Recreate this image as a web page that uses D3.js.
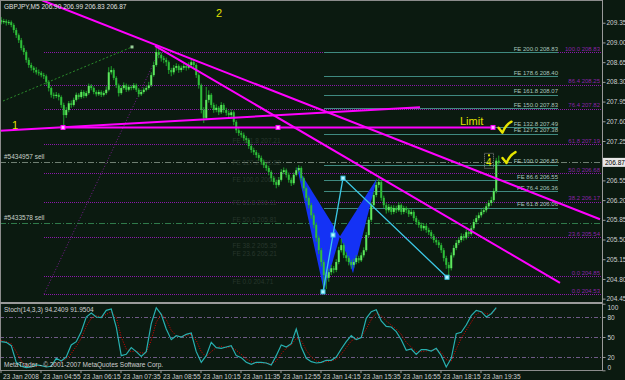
<!DOCTYPE html>
<html>
<head>
<meta charset="utf-8">
<script src="https://cdnjs.cloudflare.com/ajax/libs/d3/7.8.5/d3.min.js"></script>
<style>
  html, body { margin: 0; padding: 0; background: #0b1a10; }
  svg { display: block; font-family: 'Liberation Sans', Arial, sans-serif; }
</style>
</head>
<body>
<svg id="chart" width="625" height="380"></svg>
<script>
// GBPJPY M5, bar 0 opens 23 Jan 2008 03:35
var startTime = new Date(2008, 0, 23, 3, 35);
var firstOpen = 209.40;

var closes = [
  209.36,209.38,209.35,209.36,209.31,209.22,209.13,209.04,208.90,208.83,
  208.69,208.60,208.55,208.51,208.47,208.46,208.42,208.40,208.30,208.19,
  208.07,208.05,208.07,208.03,207.89,207.71,207.80,207.92,207.89,207.98,
  208.07,208.03,208.12,208.05,208.10,208.23,208.19,208.12,208.08,208.12,
  208.07,208.10,208.16,208.47,208.51,208.37,208.24,208.10,208.19,208.24,
  208.16,208.21,208.19,208.24,208.16,208.08,208.12,208.16,208.19,208.24,
  208.42,208.60,208.83,208.78,208.72,208.69,208.65,208.51,208.47,208.55,
  208.58,208.51,208.55,208.58,208.55,208.60,208.65,208.60,208.42,208.24,
  207.80,207.66,207.98,208.07,207.89,207.80,207.84,207.76,207.89,207.80,
  207.75,207.71,207.76,207.59,207.44,207.39,207.36,207.30,207.27,207.16,
  207.09,207.05,207.00,206.95,206.88,206.82,206.77,206.70,206.59,206.52,
  206.47,206.56,206.70,206.73,206.65,206.56,206.50,206.65,206.73,206.77,
  206.59,206.41,206.24,206.11,205.93,205.76,205.53,205.31,205.10,204.87,
  204.82,204.92,204.99,204.96,205.10,205.31,205.40,205.22,205.17,205.10,
  205.05,205.10,205.17,205.13,205.22,205.31,205.58,205.85,206.11,206.29,
  206.47,206.52,206.24,206.11,206.02,206.08,205.99,206.06,206.02,206.11,
  205.99,206.06,206.02,205.95,205.99,205.88,205.81,205.76,205.70,205.74,
  205.67,205.63,205.56,205.49,205.45,205.40,205.31,205.17,205.05,204.99,
  205.22,205.35,205.44,205.49,205.56,205.53,205.63,205.60,205.70,205.81,
  205.88,205.93,205.99,206.02,206.09,206.15,206.20,206.36,206.90,206.87
];
var highs = [
  209.45,209.42,209.41,209.40,209.39,209.34,209.26,209.16,209.08,208.95,
  208.86,208.73,208.64,208.58,208.56,208.52,208.49,208.46,208.43,208.33,
  208.22,208.11,208.12,208.10,208.06,207.93,207.85,207.96,207.97,208.02,
  208.11,208.10,208.16,208.15,208.14,208.27,208.26,208.22,208.15,208.16,
  208.15,208.14,208.22,208.56,208.58,208.54,208.40,208.27,208.23,208.29,
  208.27,208.25,208.24,208.28,208.27,208.19,208.16,208.20,208.23,208.30,
  208.47,208.66,208.92,208.89,208.82,208.76,208.73,208.68,208.55,208.60,
  208.63,208.61,208.59,208.63,208.62,208.65,208.71,208.69,208.63,208.45,
  208.27,207.85,208.21,208.15,208.10,207.93,207.90,207.87,207.94,207.92,
  207.84,207.79,207.81,207.79,207.62,207.48,207.43,207.40,207.34,207.30,
  207.20,207.13,207.09,207.04,206.99,206.92,206.86,206.81,206.73,206.63,
  206.56,206.61,206.75,206.78,206.76,206.69,206.60,206.69,206.78,206.82,
  206.80,206.62,206.44,206.28,206.15,205.97,205.80,205.57,205.35,205.14,
  204.93,204.98,205.05,205.03,205.15,205.37,205.51,205.44,205.27,205.21,
  205.14,205.16,205.22,205.21,205.27,205.36,205.63,205.90,206.16,206.34,
  206.52,206.59,206.55,206.28,206.15,206.13,206.11,206.11,206.10,206.16,
  206.14,206.10,206.09,206.06,206.04,206.02,205.92,205.85,205.80,205.79,
  205.78,205.71,205.67,205.60,205.53,205.49,205.44,205.35,205.21,205.10,
  205.27,205.40,205.49,205.54,205.61,205.60,205.68,205.66,205.75,205.86,
  205.93,205.98,206.04,206.07,206.14,206.20,206.26,206.41,206.95,206.99
];
var lows = [
  209.32,209.33,209.30,209.31,209.27,209.17,209.08,208.99,208.86,208.78,
  208.64,208.55,208.50,208.46,208.43,208.41,208.38,208.35,208.25,208.13,
  208.02,208.00,208.01,207.97,207.84,207.46,207.66,207.76,207.84,207.86,
  207.95,207.99,208.00,208.01,208.02,208.07,208.15,208.08,208.04,208.05,
  208.03,208.04,208.07,208.13,208.43,208.33,208.19,208.04,208.07,208.16,
  208.12,208.13,208.15,208.16,208.12,208.03,208.05,208.09,208.13,208.16,
  208.21,208.39,208.57,208.72,208.66,208.63,208.58,208.44,208.40,208.43,
  208.50,208.46,208.47,208.51,208.50,208.52,208.57,208.55,208.37,208.18,
  207.74,207.57,207.62,207.93,207.84,207.75,207.76,207.71,207.73,207.75,
  207.70,207.66,207.67,207.53,207.39,207.34,207.31,207.25,207.21,207.11,
  207.04,207.00,206.95,206.90,206.83,206.77,206.72,206.64,206.53,206.47,
  206.41,206.44,206.53,206.66,206.60,206.51,206.45,206.47,206.62,206.69,
  206.54,206.36,206.18,206.05,205.87,205.70,205.46,205.24,205.02,204.53,
  204.62,204.75,204.87,204.90,204.92,205.06,205.27,205.17,205.11,205.04,
  204.98,205.00,205.06,205.08,205.10,205.18,205.28,205.54,205.81,206.07,
  206.25,206.42,206.19,206.06,205.96,205.98,205.94,205.95,205.97,205.99,
  205.94,205.95,205.97,205.90,205.92,205.83,205.76,205.71,205.65,205.66,
  205.62,205.58,205.51,205.44,205.40,205.35,205.26,205.11,204.98,204.83,
  204.95,205.18,205.31,205.40,205.45,205.48,205.50,205.55,205.57,205.67,
  205.77,205.84,205.89,205.95,205.98,206.05,206.10,206.16,206.32,206.83
];

// stochastic, one value every second bar
var stochMain = [
  43,42,37,12,6,4,5,8,7,5, 6,18,14,20,38,43,58,80,86,80,
  79,90,92,65,22,24,34,28,21,28, 70,94,84,62,46,52,50,54,56,28,
  12,22,42,34,33,35,37,22,19,12, 9,12,12,11,8,22,38,35,40,62,
  35,18,13,11,12,15,15,20,32,43, 52,46,49,78,88,91,74,66,65,58,
  46,30,32,24,31,31,29,33,22,5, 18,55,57,68,82,90,88,80,85,94
];
var stochSignal = [
  45,43,40,28,14,7,5,6,7,6, 6,10,13,17,25,36,48,66,78,82,
  80,84,88,80,50,32,28,29,26,26, 45,72,85,76,60,52,50,52,54,45,
  28,20,28,34,36,34,35,30,24,17, 13,11,11,11,10,14,25,33,38,48,
  45,30,20,14,12,13,14,17,24,34, 44,48,49,62,76,86,82,74,68,62,
  54,42,35,28,28,29,30,31,27,16, 14,32,48,60,72,84,88,85,84,92
];
var stochLevels = [80, 50, 20];
var stochTicks = [100, 80, 50, 20, 0];

var priceTicks = [209.35, 209.00, 208.65, 208.30, 207.95, 207.60, 207.25,
  206.55, 206.20, 205.85, 205.50, 205.15, 204.80, 204.45];
var lastPrice = 206.87;
var timeTicks = ['03:35', '04:55', '06:15', '07:35', '08:55', '10:15', '11:35',
  '12:55', '14:15', '15:35', '16:55', '18:15', '19:35'];

// fibo retracement (purple) and expansion (teal) levels
var fibLevels = ['100.0', '86.4', '76.4', '61.8', '50.0', '38.2', '23.6', '0.0', '0.0'];
var fibPrices = [208.83, 208.25, 207.82, 207.19, 206.68, 206.17, 205.54, 204.85, 204.53];
var feLevels = ['200.0', '178.6', '161.8', '150.0', '132.8', '127.2', '100.0', '86.6', '76.4', '61.8'];
var fePrices = [208.83, 208.40, 208.07, 207.83, 207.49, 207.38, 206.83, 206.55, 206.36, 206.06];
var ghostLabels = ['FE 161.8  207.21', 'FE 127.2  206.82', 'FE 100.0  206.52', 'FE 61.8  206.11',
  'FE 50.0  205.81', 'FE 38.2  205.35', 'FE 23.6  205.21', 'FE 0.0  204.71'];
var ghostPrices = [207.21, 206.82, 206.52, 206.11, 205.81, 205.35, 205.21, 204.71];

var orders = ['#5434957 sell', '#5433578 sell'];
var orderPrices = [206.87, 205.79];

// objects as [bar, price]
var trendLines = [
  [[16.8, 209.75], [240, 205.86]],
  [[62, 208.94], [224, 204.73]],
  [[0, 207.43], [168, 207.85]],
  [[25.2, 207.49], [197.2, 207.49]]
];
var limitMarks = [25.2, 111.2, 197.2];
var gartley = [[118.8, 206.79], [129.6, 204.58], [136, 205.56], [150.8, 206.59], [141.2, 204.90]];
var swing = [[129.2, 204.57], [137.2, 206.59], [178.8, 204.83]];
var swingMarks = [[129.2, 204.57], [133.2, 205.58], [137.2, 206.59], [178.8, 204.83]];
var greenRay = [[1.2, 207.96], [52.8, 208.92]];
var fibRay = [[17.6, 204.53], [63.6, 208.83]];
var fibStart = 17.6, feStart = 129.6, feEnd = 223.2;
var tags = [['1', 4.8, 207.46], ['2', 86.4, 209.45], ['Limit', 184, 207.53]];
var checks = [[199.4, 207.38], [201, 206.84]];
var wave4 = [194.4, 206.80];

var W = 625, H = 380;
var plotRight = 602, mainBottom = 302, stochBottom = 370;

var Chart = function() {
  this.svg = d3.select('#chart');
  this.x = d3.scaleLinear().domain([0, 240.8]).range([0, plotRight]);
  this.xTime = d3.scaleTime()
    .domain([startTime, d3.timeMinute.offset(startTime, 240.8 * 5)])
    .range([0, plotRight]);
  this.y = d3.scaleLinear().domain([204.39, 209.754]).range([mainBottom, 0]);
  this.yS = d3.scaleLinear().domain([0, 100]).range([370.3, 303.7]);
};

Chart.prototype.pt = function(d) {
  return [this.x(d[0]), this.y(d[1])];
};

Chart.prototype.drawFrame = function() {
  var svg = this.svg;
  svg.append('rect').attr('width', W).attr('height', H).attr('fill', '#0b1a10');
  svg.append('clipPath').attr('id', 'main-clip')
    .append('rect').attr('width', plotRight).attr('height', mainBottom);
  this.main = svg.append('g').attr('clip-path', 'url(#main-clip)');
};

Chart.prototype.drawLevels = function() {
  var thiz = this, g = this.main;

  // fibo retracement lines, dotted purple from the anchor to the right edge
  g.selectAll('line.fib').data(fibPrices).enter().append('line')
    .attr('x1', this.x(fibStart)).attr('x2', plotRight)
    .attr('y1', function(d) { return Math.round(thiz.y(d)) + 0.5; })
    .attr('y2', function(d) { return Math.round(thiz.y(d)) + 0.5; })
    .attr('stroke', '#8a18a8').attr('stroke-dasharray', '1,1');
  g.selectAll('text.fib').data(fibPrices).enter().append('text')
    .attr('x', plotRight - 2).attr('y', function(d) { return thiz.y(d) - 1.5; })
    .attr('text-anchor', 'end').attr('font-size', 6).attr('fill', '#8a22a8')
    .text(function(d, i) { return fibLevels[i] + '  ' + d.toFixed(2); });

  // fibo ray
  g.append('line')
    .attr('x1', this.x(fibRay[0][0])).attr('y1', this.y(fibRay[0][1]))
    .attr('x2', this.x(fibRay[1][0])).attr('y2', this.y(fibRay[1][1]))
    .attr('stroke', '#7a1a90').attr('stroke-dasharray', '1,2');

  // order lines
  g.selectAll('line.order').data(orderPrices).enter().append('line')
    .attr('x1', 0).attr('x2', plotRight)
    .attr('y1', function(d) { return Math.round(thiz.y(d)) + 0.5; })
    .attr('y2', function(d) { return Math.round(thiz.y(d)) + 0.5; })
    .attr('stroke', function(d, i) { return i ? '#2f7a4a' : '#6f7f72'; })
    .attr('stroke-dasharray', '6,2,1,2');
  g.selectAll('text.order').data(orderPrices).enter().append('text')
    .attr('x', 4).attr('y', function(d) { return thiz.y(d) - 3; })
    .attr('font-size', 6.5).attr('fill', '#c8d0c8')
    .text(function(d, i) { return orders[i]; });

  // old expansion, almost hidden
  g.selectAll('text.ghost').data(ghostPrices).enter().append('text')
    .attr('x', this.x(93)).attr('y', function(d) { return thiz.y(d); })
    .attr('font-size', 6.5).attr('fill', '#27362c')
    .text(function(d, i) { return ghostLabels[i]; });

  // fibo expansion
  g.selectAll('line.fe').data(fePrices).enter().append('line')
    .attr('x1', this.x(feStart)).attr('x2', this.x(feEnd))
    .attr('y1', function(d) { return Math.round(thiz.y(d)) + 0.5; })
    .attr('y2', function(d) { return Math.round(thiz.y(d)) + 0.5; })
    .attr('stroke', '#3f8a80');
  g.selectAll('text.fe').data(fePrices).enter().append('text')
    .attr('x', this.x(feEnd)).attr('y', function(d) { return thiz.y(d) - 1.5; })
    .attr('text-anchor', 'end').attr('font-size', 6).attr('fill', '#a8c4bc')
    .text(function(d, i) { return 'FE ' + feLevels[i] + '  ' + d.toFixed(2); });
};

Chart.prototype.drawCandles = function() {
  var thiz = this, g = this.main;

  // gartley triangles sit behind the bars
  var tri = [[gartley[0], gartley[1], gartley[2]], [gartley[2], gartley[3], gartley[4]]];
  g.selectAll('path.gartley').data(tri).enter().append('path')
    .attr('d', function(d) { return 'M' + d.map(function(p) { return thiz.pt(p).join(','); }).join('L') + 'Z'; })
    .attr('fill', '#1432f5');

  var bars = closes.map(function(c, i) {
    return { i: i, open: i ? closes[i - 1] : firstOpen, high: highs[i], low: lows[i], close: c };
  });
  g.selectAll('line.wick').data(bars).enter().append('line')
    .attr('x1', function(d) { return thiz.x(d.i) + 1.25; })
    .attr('x2', function(d) { return thiz.x(d.i) + 1.25; })
    .attr('y1', function(d) { return thiz.y(d.high); })
    .attr('y2', function(d) { return thiz.y(d.low); })
    .attr('stroke', '#1fa02a').attr('stroke-width', 1);
  g.selectAll('rect.body').data(bars).enter().append('rect')
    .attr('x', function(d) { return thiz.x(d.i) + 0.25; })
    .attr('width', 2)
    .attr('y', function(d) { return thiz.y(Math.max(d.open, d.close)); })
    .attr('height', function(d) { return Math.max(1, Math.abs(thiz.y(d.open) - thiz.y(d.close))); })
    .attr('fill', function(d) { return d.close >= d.open ? '#5ee85e' : '#2fbf3a'; });
};

Chart.prototype.drawObjects = function() {
  var thiz = this, g = this.main;
  var line = d3.line()
    .x(function(d) { return thiz.x(d[0]); })
    .y(function(d) { return thiz.y(d[1]); });

  // green ray with its end point
  g.append('path').attr('d', line(greenRay))
    .attr('fill', 'none').attr('stroke', '#2a8a2a').attr('stroke-dasharray', '2,2');
  g.append('rect')
    .attr('x', this.x(greenRay[1][0]) - 1.5).attr('y', this.y(greenRay[1][1]) - 1.5)
    .attr('width', 3).attr('height', 3).attr('fill', '#9ad09a');

  // magenta trend lines
  g.selectAll('path.trend').data(trendLines).enter().append('path')
    .attr('d', line).attr('fill', 'none')
    .attr('stroke', '#ff00ff').attr('stroke-width', 2);
  g.selectAll('rect.limit').data(limitMarks).enter().append('rect')
    .attr('x', function(d) { return thiz.x(d) - 2; })
    .attr('y', this.y(trendLines[3][0][1]) - 2)
    .attr('width', 4).attr('height', 4)
    .attr('fill', '#ffb0ff').attr('stroke', '#ff00ff');

  // swing legs
  g.append('path').attr('d', line(swing))
    .attr('fill', 'none').attr('stroke', '#3cc8e6').attr('stroke-width', 1.3);
  g.selectAll('rect.swing').data(swingMarks).enter().append('rect')
    .attr('x', function(d) { return thiz.x(d[0]) - 2; })
    .attr('y', function(d) { return thiz.y(d[1]) - 2; })
    .attr('width', 4).attr('height', 4)
    .attr('fill', '#b8f4ff').attr('stroke', '#3cc8e6');

  // yellow marks
  g.selectAll('text.tag').data(tags).enter().append('text')
    .attr('x', function(d) { return thiz.x(d[1]); })
    .attr('y', function(d) { return thiz.y(d[2]); })
    .attr('font-size', 11).attr('fill', '#e0e000')
    .text(function(d) { return d[0]; });

  // tick marks drawn as a stroke so they keep their size
  g.selectAll('path.check').data(checks).enter().append('path')
    .attr('transform', function(d) { return 'translate(' + thiz.pt(d).join(',') + ')'; })
    .attr('d', 'M0,-6 L4,-1 C6,-6 9,-10 13,-12')
    .attr('fill', 'none').attr('stroke', '#e6e600').attr('stroke-width', 2.4)
    .attr('stroke-linecap', 'round').attr('stroke-linejoin', 'round');

  var wx = this.x(wave4[0]), wy = this.y(wave4[1]);
  g.append('rect')
    .attr('x', wx - 1.5).attr('y', wy - 13).attr('width', 9).attr('height', 15)
    .attr('fill', 'none').attr('stroke', '#8a8a8a').attr('stroke-dasharray', '1,1');
  g.append('text').attr('x', wx).attr('y', wy)
    .attr('font-size', 10).attr('fill', '#e0e000').text('4');
  g.append('rect').attr('x', wx + 2).attr('y', wy - 12).attr('width', 2).attr('height', 2)
    .attr('fill', '#e0e000');
};

Chart.prototype.drawStoch = function() {
  var thiz = this, svg = this.svg;
  var g = svg.append('g');

  g.selectAll('line.level').data(stochLevels).enter().append('line')
    .attr('x1', 0).attr('x2', plotRight)
    .attr('y1', function(d) { return Math.round(thiz.yS(d)) + 0.5; })
    .attr('y2', function(d) { return Math.round(thiz.yS(d)) + 0.5; })
    .attr('stroke', '#6e5a86').attr('stroke-dasharray', '4,2,1,2');

  var line = d3.line()
    .x(function(d, k) { return thiz.x(k * 2) + 1.25; })
    .y(function(d) { return thiz.yS(d); });
  g.append('path').attr('d', line(stochSignal))
    .attr('fill', 'none').attr('stroke', '#e00000').attr('stroke-dasharray', '1,1.5');
  g.append('path').attr('d', line(stochMain))
    .attr('fill', 'none').attr('stroke', '#28b0b0').attr('stroke-width', 1.2);

  g.append('text').attr('x', 4).attr('y', 312)
    .attr('font-size', 6.5).attr('fill', '#d0d0d0')
    .text('Stoch(14,3,3) ' + '94.2409 91.9504');
  g.append('text').attr('x', 4).attr('y', 367)
    .attr('font-size', 6.5).attr('fill', '#d0d0d0')
    .text('MetaTrader - \u00a9 2001-2007 MetaQuotes Software Corp.');
};

Chart.prototype.drawAxes = function() {
  var thiz = this, svg = this.svg;

  // frame and pane separator
  svg.append('rect').attr('x', 0.5).attr('y', 0.5).attr('width', plotRight).attr('height', stochBottom)
    .attr('fill', 'none').attr('stroke', '#8c8c8c');
  svg.append('rect').attr('x', 0).attr('y', mainBottom).attr('width', plotRight).attr('height', 2)
    .attr('fill', '#9a9a9a');

  var price = svg.append('g').attr('transform', 'translate(' + (plotRight + 0.5) + ',0)')
    .call(d3.axisRight(this.y).tickValues(priceTicks).tickSize(3).tickPadding(1)
      .tickFormat(d3.format('.2f')));
  var stoch = svg.append('g').attr('transform', 'translate(' + (plotRight + 0.5) + ',0)')
    .call(d3.axisRight(this.yS).tickValues(stochTicks).tickSize(3).tickPadding(2));
  // keep the end labels inside the pane
  stoch.selectAll('.tick text').attr('dy', function(d) {
    return d === 100 ? '0.9em' : d === 0 ? '-0.2em' : '0.32em';
  });

  var parse = d3.timeParse('%Y-%m-%d %H:%M');
  var times = timeTicks.map(function(t) { return parse('2008-01-23 ' + t); });
  var time = svg.append('g').attr('transform', 'translate(0.5,' + stochBottom + ')')
    .call(d3.axisBottom(this.xTime).tickValues(times).tickSize(3).tickPadding(1)
      .tickFormat(function(d, i) { return d3.timeFormat(i ? '%d %b %H:%M' : '%d %b %Y')(d); }));
  time.selectAll('text').attr('text-anchor', 'start').attr('dx', 2);

  [price, stoch, time].forEach(function(a) {
    a.select('.domain').remove();
    a.selectAll('line').attr('stroke', '#9a9a9a');
    a.selectAll('text').attr('fill', '#d0d0d0').attr('font-size', 6.5)
      .attr('font-family', "'Liberation Sans', Arial, sans-serif");
  });
  svg.append('line').attr('x1', plotRight + 0.5).attr('x2', plotRight + 0.5)
    .attr('y1', 0).attr('y2', stochBottom).attr('stroke', '#9a9a9a');

  // current price tag
  var py = this.y(lastPrice);
  svg.append('rect').attr('x', plotRight + 1).attr('y', py - 4.5).attr('width', 22).attr('height', 9)
    .attr('fill', '#e8e8e8');
  svg.append('text').attr('x', plotRight + 3).attr('y', py + 2.2)
    .attr('font-size', 6.5).attr('fill', '#000').text(lastPrice.toFixed(2));

  // symbol title
  svg.append('text').attr('x', 4).attr('y', 9)
    .attr('font-size', 6.5).attr('fill', '#e0e0e0')
    .text('GBPJPY,M5  206.90 206.99 206.83 206.87');
};

var chart = new Chart();
chart.drawFrame();
chart.drawLevels();
chart.drawCandles();
chart.drawObjects();
chart.drawStoch();
chart.drawAxes();
</script>
</body>
</html>
